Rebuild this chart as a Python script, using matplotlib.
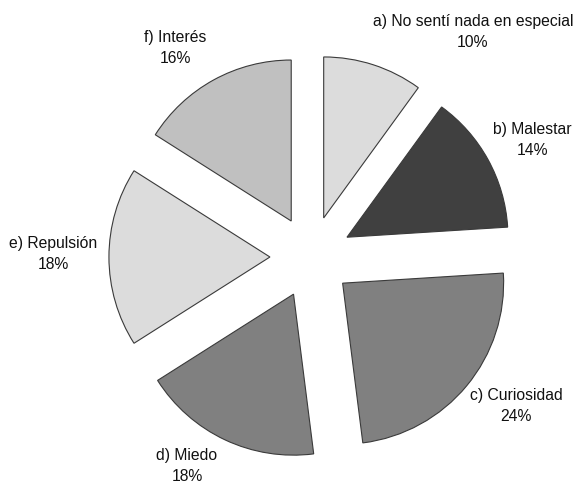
import matplotlib
matplotlib.use('Agg')
import matplotlib.pyplot as plt

plt.rcParams['font.family'] = ['Liberation Sans', 'DejaVu Sans']

# datos
etiquetas = ['a) No sentí nada en especial', 'b) Malestar', 'c) Curiosidad',
             'd) Miedo', 'e) Repulsión', 'f) Interés']
porcentajes = [10, 14, 24, 18, 18, 16]
colores = ['#dcdcdc', '#404040', '#808080', '#808080', '#dcdcdc', '#c0c0c0']

# posiciones de las etiquetas (pixeles de la imagen)
pos_etiquetas = [(473, 32), (532, 140), (516, 406), (187, 466), (53, 254), (175, 48)]

W, H = 577, 483
cx, cy, r = 311, 257, 161

fig = plt.figure(figsize=(W / 100, H / 100), dpi=100, facecolor='white')
ax = fig.add_axes([0, 0, 1, 1])

ax.pie(porcentajes, colors=colores, startangle=90, counterclock=False,
       explode=[0.255] * len(porcentajes), radius=1,
       wedgeprops=dict(edgecolor='#3a3a3a', linewidth=0.8))

for txt, pct, (px, py) in zip(etiquetas, porcentajes, pos_etiquetas):
    ax.text((px - cx) / r, (cy - py) / r, f'{txt}\n{pct}%', ha='center', va='center',
            fontsize=11.3, linespacing=1.5, color='#111111')

ax.set_xlim(-cx / r, (W - cx) / r)
ax.set_ylim(-(H - cy) / r, cy / r)
ax.set_aspect('equal')
ax.axis('off')

fig.savefig('out.png', dpi=100, facecolor='white')
plt.close(fig)
